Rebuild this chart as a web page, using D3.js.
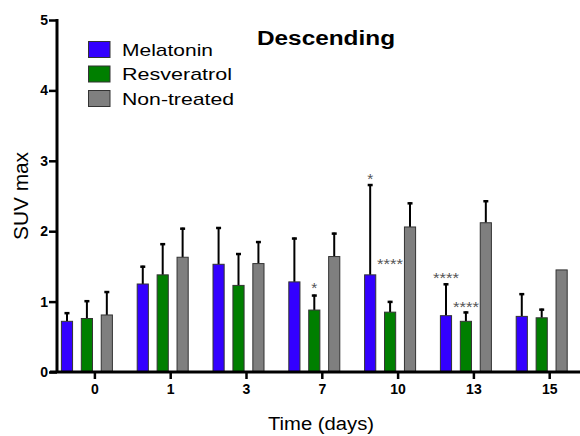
<!DOCTYPE html>
<html><head><meta charset="utf-8">
<script src="https://cdn.jsdelivr.net/npm/d3@7"></script>
<style>
html,body{margin:0;padding:0;background:#fff;}
svg{display:block;font-family:"Liberation Sans",Arial,sans-serif;}
</style></head>
<body>
<svg id="c" width="580" height="436"></svg>
<script>
const days = ["0","1","3","7","10","13","15"];
const seriesNames = ["Melatonin","Resveratrol","Non-treated"];
const seriesColors = ["#3300ff","#007f00","#7f7f7f"];
const melatonin     = [0.72, 1.25, 1.53, 1.28, 1.38, 0.80, 0.79];
const melatoninErr  = [0.85, 1.51, 2.06, 1.91, 2.67, 1.26, 1.12];
const resveratrol    = [0.76, 1.38, 1.23, 0.88, 0.85, 0.72, 0.77];
const resveratrolErr = [1.02, 1.83, 1.69, 1.10, 1.01, 0.86, 0.90];
const nontreated    = [0.81, 1.63, 1.54, 1.64, 2.06, 2.12, 1.45];
const nontreatedErr = [1.15, 2.05, 1.86, 1.98, 2.41, 2.44, null];
const yTicks = [0,1,2,3,4,5];
const annotations = [
  {day:"7",  series:1, text:"*",    level:1.23},
  {day:"10", series:0, text:"*",    level:2.78},
  {day:"10", series:1, text:"****", level:1.58},
  {day:"13", series:0, text:"****", level:1.38},
  {day:"13", series:1, text:"****", level:0.96}
];

const values = [melatonin, resveratrol, nontreated];
const errs = [melatoninErr, resveratrolErr, nontreatedErr];

const svg = d3.select("#c");
const y = d3.scaleLinear().domain([0,5]).range([372,20]);
const x = d3.scaleBand().domain(days).range([57,587.6]).padding(0);
const xs = d3.scaleBand().domain(d3.range(3)).range([-33.5,17.5]).paddingInner(0.44).paddingOuter(0);
const center = d => x(d) + x.bandwidth()/2;

const data = [];
days.forEach((d,i)=>{ for(let s=0;s<3;s++) data.push({day:d, s, v:values[s][i], e:errs[s][i]}); });

// error bars
const eg = svg.append("g");
data.filter(d=>d.e!=null).forEach(d=>{
  const cx = center(d.day) + xs(d.s) + xs.bandwidth()/2;
  eg.append("line").attr("x1",cx).attr("x2",cx).attr("y1",y(d.v)).attr("y2",y(d.e))
    .attr("stroke","#000").attr("stroke-width",2);
  eg.append("line").attr("x1",cx-2.5).attr("x2",cx+2.5).attr("y1",y(d.e)+1).attr("y2",y(d.e)+1)
    .attr("stroke","#000").attr("stroke-width",2.5);
});

svg.append("g").selectAll("rect").data(data).join("rect")
  .attr("x", d=>center(d.day)+xs(d.s))
  .attr("width", xs.bandwidth())
  .attr("y", d=>y(d.v))
  .attr("height", d=>y(0)-y(d.v))
  .attr("fill", d=>seriesColors[d.s])
  .attr("stroke", "#333")
  .attr("stroke-width", 1);

// annotations
svg.append("g").selectAll("text").data(annotations).join("text")
  .attr("x", d=>center(d.day)+xs(d.series)+xs.bandwidth()/2)
  .attr("y", d=>y(d.level)+8)
  .attr("text-anchor","middle")
  .attr("font-size",14)
  .attr("fill","#555")
  .attr("textLength", d=>d.text.length>1?26:6)
  .attr("lengthAdjust","spacingAndGlyphs")
  .text(d=>d.text);

// axes
const yAxis = svg.append("g").attr("transform","translate(57,0)")
  .call(d3.axisLeft(y).tickValues(yTicks).tickFormat(d3.format("d")).tickSize(8).tickPadding(1).tickSizeOuter(0));
const xAxis = svg.append("g").attr("transform","translate(0,372)")
  .call(d3.axisBottom(x).tickSize(7).tickPadding(5).tickSizeOuter(0));
[yAxis,xAxis].forEach(a=>{
  a.attr("font-family",null).attr("font-size",null);
  a.select(".domain").attr("stroke","#000").attr("stroke-width",3);
  a.selectAll(".tick line").attr("stroke","#000").attr("stroke-width",2.5);
  a.selectAll(".tick text").attr("fill","#000")
    .style("font-size","14px").style("font-weight","bold")
    .style("font-family","'Liberation Sans',Arial,sans-serif");
});
xAxis.select(".domain").attr("d","M50,0H580");
yAxis.select(".domain").attr("d","M0,19V373");

// title
svg.append("text").attr("x",257).attr("y",45).attr("font-size",20).style("font-weight","bold")
  .attr("textLength",138).attr("lengthAdjust","spacingAndGlyphs").text("Descending");

// axis labels
svg.append("text").attr("x",268).attr("y",430).attr("font-size",18)
  .attr("textLength",106).attr("lengthAdjust","spacingAndGlyphs").text("Time (days)");
svg.append("text").attr("transform","translate(28,240) rotate(-90)").attr("font-size",20)
  .attr("textLength",88).attr("lengthAdjust","spacingAndGlyphs").text("SUV max");

// legend
const lg = svg.append("g");
const legendLens = [91,110,112];
seriesNames.forEach((n,i)=>{
  const cy = 49.5 + i*24.5;
  lg.append("rect").attr("x",88.5).attr("y",cy-8).attr("width",21.5).attr("height",16)
    .attr("fill",seriesColors[i]).attr("stroke","#333").attr("stroke-width",1);
  lg.append("text").attr("x",122).attr("y",cy+6).attr("font-size",17)
    .attr("textLength",legendLens[i]).attr("lengthAdjust","spacingAndGlyphs").text(n);
});
</script>
</body></html>
